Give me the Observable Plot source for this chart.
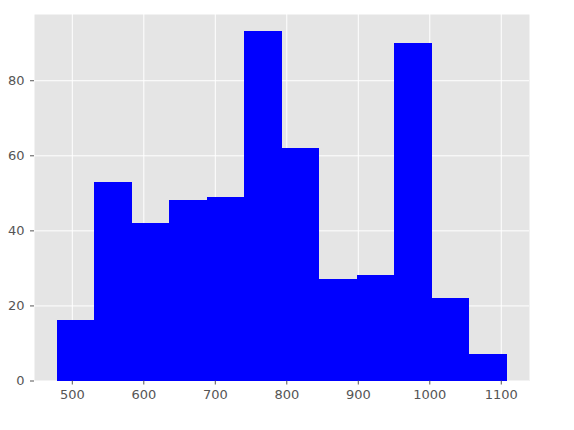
<!DOCTYPE html>
<html>
<head>
<meta charset="utf-8">
<script src="https://cdn.jsdelivr.net/npm/d3@7"></script>
<script src="https://cdn.jsdelivr.net/npm/@observablehq/plot@0.6"></script>
<style>
  html, body { margin: 0; padding: 0; background: #fff; }
  #chart svg { display: block; }
</style>
</head>
<body>
<div id="chart"></div>
<script>
// Histogram bin edges (13 edges -> 12 bins) and counts
const binEdges = [478.6, 531.0, 583.5, 636.0, 688.4, 740.9, 793.3, 845.8, 898.2, 950.7, 1003.1, 1055.6, 1108.0];
const counts = [16, 53, 42, 48, 49, 93, 62, 27, 28, 90, 22, 7];
const xTicks = [500, 600, 700, 800, 900, 1000, 1100];
const yTicks = [0, 20, 40, 60, 80];

const bins = counts.map((c, i) => ({x1: binEdges[i], x2: binEdges[i + 1], count: c}));

const pad = (binEdges[binEdges.length - 1] - binEdges[0]) * 0.05;
const xDomain = [binEdges[0] - pad, binEdges[binEdges.length - 1] + pad];
const yDomain = [0, d3.max(counts) * 1.05];

const chart = Plot.plot({
  width: 574,
  height: 430,
  marginLeft: 34,
  marginRight: 45,
  marginTop: 14,
  marginBottom: 49.5,
  style: {fontFamily: "DejaVu Sans", fontSize: "13px", color: "#555555", background: "#ffffff"},
  x: {domain: xDomain},
  y: {domain: yDomain},
  marks: [
    Plot.frame({fill: "#E5E5E5", stroke: null}),
    Plot.gridX(xTicks, {stroke: "#ffffff", strokeOpacity: 1, strokeWidth: 1}),
    Plot.gridY(yTicks, {stroke: "#ffffff", strokeOpacity: 1, strokeWidth: 1}),
    Plot.rectY(bins, {x1: "x1", x2: "x2", y: "count", fill: "#0000ff", inset: 0, shapeRendering: "crispEdges"}),
    Plot.axisX(xTicks, {tickSize: 4, tickPadding: 5, stroke: "#555555", fill: "#555555", fontSize: 13, tickFormat: d3.format("d"), label: null}),
    Plot.axisY(yTicks, {tickSize: 4, tickPadding: 6, stroke: "#555555", fill: "#555555", fontSize: 13, tickFormat: d3.format("d"), label: null})
  ]
});
document.getElementById("chart").appendChild(chart);
</script>
</body>
</html>
